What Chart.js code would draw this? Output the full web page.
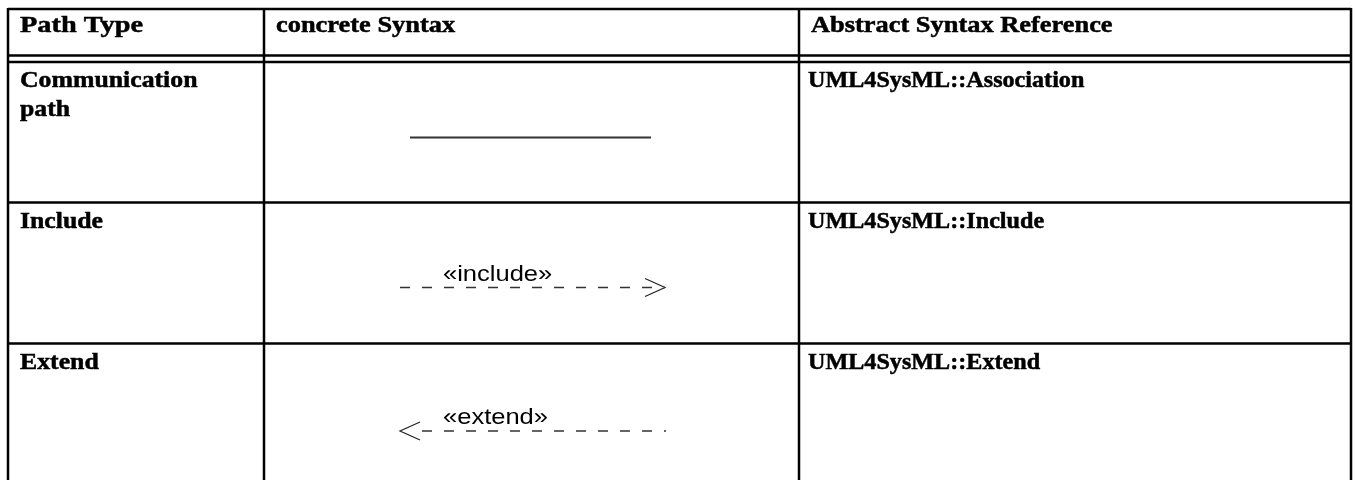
<!DOCTYPE html>
<html>
<head>
<meta charset="utf-8">
<script src="https://cdn.jsdelivr.net/npm/chart.js@4/dist/chart.umd.min.js"></script>
<style>
  html, body { margin: 0; padding: 0; background: #fff; }
  #wrap { width: 1356px; height: 480px; position: relative; }
</style>
</head>
<body>
<div id="wrap"><canvas id="tbl"></canvas></div>
<script>
/* ---- table content ---- */
const headers = ['Path Type', 'concrete Syntax', 'Abstract Syntax Reference'];
const pathTypes = [['Communication', 'path'], ['Include'], ['Extend']];
const abstractRefs = ['UML4SysML::Association', 'UML4SysML::Include', 'UML4SysML::Extend'];
const stereotypes = ['', '«include»', '«extend»'];
const dashed = [false, true, true];

/* ---- grid (page units) ---- */
const colEdges = [8, 264, 799, 1351];
const rowEdges = [9, 55.5, 62, 202.5, 343.5];
const tableBottom = 480;

/* ---- notation lines per row: x from, x to, y, arrow tip ---- */
const lineFrom = [410, 400, 422];
const lineTo = [651, 665, 666];
const lineY = [137.5, 287.5, 431];
const arrowTip = [null, 665, 400];
const labelX = [0, 443, 443];
const labelY = [0, 281, 424];

const seg = (x1, y1, x2, y2) => [{ x: x1, y: y1 }, { x: x2, y: y2 }];
const datasets = [];

// table rules
rowEdges.forEach(y => datasets.push({ data: seg(colEdges[0], y, colEdges[3], y), borderColor: '#000', borderWidth: 2.5 }));
colEdges.forEach(x => datasets.push({ data: seg(x, rowEdges[0] - 1, x, tableBottom), borderColor: '#000', borderWidth: 2.5 }));

// concrete syntax notation
lineFrom.forEach((x1, i) => {
    const y = lineY[i];
    datasets.push({
        data: seg(x1, y, lineTo[i], y),
        borderColor: '#333',
        borderWidth: dashed[i] ? 1.3 : 1.8,
        borderDash: dashed[i] ? [10, 12] : []
    });
    const tip = arrowTip[i];
    if (tip !== null) {
        const dir = tip > x1 ? -1 : 1;   // arms open back toward the line
        datasets.push({
            data: [{ x: tip + dir * 20, y: y - 9 }, { x: tip, y: y }, { x: tip + dir * 20, y: y + 9 }],
            borderColor: '#222', borderWidth: 1.2
        });
    }
});

datasets.forEach(d => Object.assign(d, { showLine: true, pointRadius: 0, fill: false, tension: 0, borderCapStyle: 'butt' }));

// text drawn in page units through the scales
const textPlugin = {
    id: 'tableText',
    afterDatasetsDraw(chart) {
        const { ctx, scales: { x, y } } = chart;
        const put = (txt, px, py, font, stretch, weight) => {
            ctx.save();
            ctx.font = font;
            ctx.fillStyle = '#000';
            ctx.strokeStyle = '#000';
            ctx.lineWidth = weight;
            ctx.textBaseline = 'alphabetic';
            ctx.translate(x.getPixelForValue(px), y.getPixelForValue(py));
            ctx.scale(stretch, 1);
            ctx.fillText(txt, 0, 0);
            if (weight) ctx.strokeText(txt, 0, 0);
            ctx.restore();
        };
        const head = 'bold 24px "Liberation Serif", "Times New Roman", serif';
        const body = 'bold 23px "Liberation Serif", "Times New Roman", serif';
        const sans = '22px "Liberation Sans", Arial, sans-serif';

        headers.forEach((h, c) => put(h, colEdges[c] + 12, rowEdges[0] + 23, head, c === 0 ? 1.18 : 1.1, 0.5));
        pathTypes.forEach((lines, r) => {
            const top = rowEdges[r + 2];
            lines.forEach((t, k) => put(t, colEdges[0] + 12, top + 25 + k * 29, body, 1.12, 0.5));
            put(abstractRefs[r], colEdges[2] + 9, top + 25, body, 1.05, 0.5);
            if (stereotypes[r]) put(stereotypes[r], labelX[r], labelY[r], sans, 1.16, 0);
        });
    }
};

new Chart(document.getElementById('tbl'), {
    type: 'scatter',
    data: { datasets },
    options: {
        responsive: true, maintainAspectRatio: false, animation: false,
        layout: { padding: 0 },
        plugins: { legend: { display: false }, tooltip: { enabled: false } },
        scales: {
            x: { type: 'linear', min: 0, max: 1356, display: false },
            y: { type: 'linear', min: 0, max: 480, reverse: true, display: false }
        }
    },
    plugins: [textPlugin]
});
</script>
</body>
</html>
